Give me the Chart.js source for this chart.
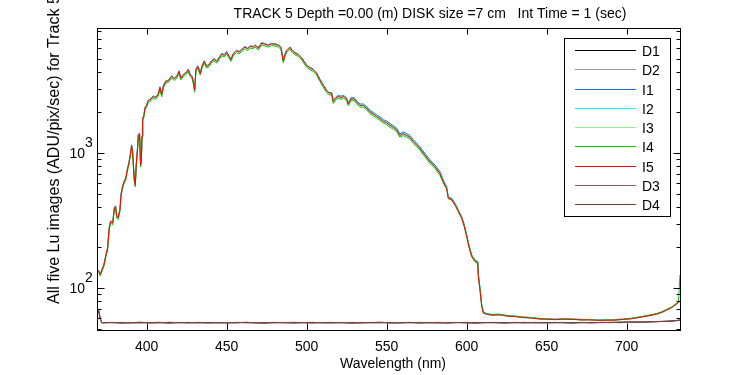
<!DOCTYPE html>
<html><head><meta charset="utf-8">
<script src="https://cdn.jsdelivr.net/npm/chart.js@4.4.1/dist/chart.umd.min.js"></script>
<style>html,body{margin:0;padding:0;background:#fff;overflow:hidden}</style>
</head><body>
<canvas id="c" width="750" height="375"></canvas>
<script>
const titleText = 'TRACK 5 Depth =0.00 (m) DISK size =7 cm   Int Time = 1 (sec)';
const xTitle = 'Wavelength (nm)';
const yTitle = 'All five Lu images (ADU/pix/sec) for Track 5';
const xTicks = [400, 450, 500, 550, 600, 650, 700];
const yMajorTicks = [100, 1000];
const yMajorBase = ['10', '10'];
const yMajorExp = ['2', '3'];
const yMinorTicks = [50, 60, 70, 80, 90, 200, 300, 400, 500, 600, 700, 800, 900, 2000, 3000, 4000, 5000, 6000, 7000, 8000];
const seriesNames = ['D1', 'D2', 'I1', 'I2', 'I3', 'I4', 'I5', 'D3', 'D4'];
const seriesColors = ['#000000', '#999999', '#1874d0', '#00ffff', '#90ee90', '#00c800', '#ff0000', '#8b5f5f', '#803838'];

const wl = [370,371,373.3,374.6,375.6,376.6,377.5,378.8,379.8,380.6,
381.3,382.2,383.3,384,384.8,386,387,387.9,388.9,389.8,
390.6,391.2,392.3,392.9,393.5,394.4,394.8,395.6,396.2,396.7,
397.1,397.5,398.3,398.9,400,401,402.7,404.2,405.6,407.3,
408.3,409.4,410.4,411.9,413.5,415.6,417.3,418.9,420.2,421.4,
422.9,424.4,426,427.2,428.3,429.1,430,430.8,431.9,433.5,
434.6,436,437.5,439,440.6,442.1,443.8,445.2,446.9,448.5,
450,451.5,452.7,454,456.2,457.7,459.3,461.4,463,464.7,
466.6,467.7,469.8,471.9,474,476,478.1,480.2,482.3,483.9,
485.4,486.4,487.5,489.6,491,492.7,494.8,496.9,498.5,500,
502.1,504.2,506.2,508.3,510.4,512.5,514,515.6,516.6,518.1,
519.8,521.5,522.9,525,526,527.7,529.7,531.2,533.3,535.4,
537.5,539.6,541.6,543.7,545.8,547.9,550,552.1,554.1,556.2,
558.3,560.4,562.5,564.6,566.6,568.7,570.8,573.9,577.1,580.2,
583.3,585.4,587.5,588.5,590.6,592.7,594.8,596.9,598.5,600,
601.4,603.1,605.2,606.9,607.3,608.3,609.4,610.4,612.5,615.6,
620.6,625,630,635.4,640,645.8,650,655,660,666.6,
672,677,682,687.5,692,697.9,703,708.3,713,718.7,
722,725,728,730.2,732.3,733.3];

const I1 = [136,127,150,178,200,281,315,306,395,407,
343,335,384,496,562,623,659,758,851,980,
1150,1040,640,588,827,1132,1380,1404,827,901,
1343,1813,1920,2175,2277,2464,2535,2656,2606,2762,
3100,2737,3151,3434,3464,3737,3596,3737,4070,3626,
3838,3949,4181,3838,3737,3434,2969,4181,4434,3939,
4434,4828,4434,4545,4868,5000,4828,5111,5464,5353,
5656,5252,4969,5454,5787,5656,5868,6161,5989,6232,
6161,6343,6050,6595,6464,6343,6515,6464,6343,6131,
4878,5404,5787,6131,5787,5565,5404,5111,4767,4505,
4313,4181,3949,3525,3202,2919,2808,2808,2444,2576,
2680,2640,2680,2570,2350,2570,2570,2440,2310,2310,
2210,2070,2005,1925,1855,1770,1726,1653,1598,1534,
1394,1433,1394,1347,1259,1188,1113,996,889,816,
729,632,564,475,463,425,379,338,294,247,
208,176,161,157,124,99,74,66,64.8,63.6,
63.9,62.6,62,61,60.5,59.3,59.2,58.9,59,58.8,
58.6,58.4,58.2,58,58.4,58.8,59.6,61.1,62.4,64.4,
66.4,69.1,71.9,75.2,78.4,80.4];

const I2 = [135,126,149,177,198,279,313,304,392,404,
341,333,381,492,559,619,655,753,845,974,
1143,1033,636,584,821,1124,1371,1394,821,895,
1334,1800,1907,2160,2262,2447,2517,2638,2588,2743,
3079,2718,3129,3410,3440,3711,3570,3711,4042,3600,
3811,3921,4152,3811,3711,3410,2949,4152,4403,3912,
4403,4794,4403,4513,4834,4965,4794,5075,5426,5316,
5617,5216,4935,5416,5747,5617,5827,6118,5948,6188,
6118,6299,6008,6549,6419,6299,6469,6419,6299,6088,
4844,5366,5747,6088,5747,5526,5366,5075,4734,4473,
4283,4152,3921,3500,3179,2898,2788,2788,2427,2558,
2650,2600,2650,2540,2330,2540,2540,2410,2275,2275,
2175,2035,1970,1890,1820,1736,1694,1622,1568,1505,
1368,1406,1368,1322,1235,1166,1093,977,872,801,
715,620,553,466,454,417,372,332,288,243,
204,173,159,155,122,98,74,66,65,64,
64.2,62.8,62.1,61.2,60.6,59.5,59.3,59,59.1,59,
58.7,58.5,58.3,58.2,58.5,59,59.8,61.2,62.5,64.6,
66.6,69.3,72.1,75.4,78.6,80.6];

const I3 = [134,125,148,176,197,276,310,301,388,400,
338,330,377,488,553,613,649,746,838,965,
1133,1024,630,578,814,1114,1358,1381,814,886,
1322,1784,1889,2140,2241,2425,2494,2613,2564,2718,
3051,2693,3100,3379,3408,3677,3538,3677,4005,3567,
3776,3885,4114,3776,3677,3379,2921,4114,4362,3875,
4362,4750,4362,4471,4790,4918,4750,5028,5376,5266,
5565,5167,4889,5366,5694,5565,5773,6062,5893,6131,
6062,6240,5952,6489,6360,6240,6409,6360,6240,6032,
4800,5316,5694,6032,5694,5475,5316,5028,4690,4432,
4243,4114,3885,3468,3150,2872,2762,2762,2405,2534,
2613,2564,2613,2504,2295,2504,2504,2375,2241,2241,
2140,2000,1938,1858,1789,1707,1664,1594,1540,1479,
1343,1381,1343,1299,1213,1145,1073,960,857,787,
703,609,544,458,446,410,366,326,283,239,
201,170,156,152,120,96,73,65,63.8,62.8,
63.3,61.9,61.4,60.6,59.9,58.9,58.7,58.4,58.6,58.4,
58.1,57.9,57.7,57.6,57.9,58.4,59.1,60.6,61.9,63.9,
65.9,68.6,71.4,74.7,77.9,79.9];

const I4 = [132,123,145,172,192,270,303,294,380,391,
330,322,369,476,540,598,633,728,818,942,
1105,999,612,562,794,1087,1326,1348,790,865,
1290,1741,1844,2089,2187,2367,2435,2551,2503,2653,
2978,2610,3026,3298,3327,3589,3453,3589,3909,3482,
3686,3793,4016,3686,3589,3298,2820,4016,4258,3783,
4258,4637,4258,4365,4675,4802,4637,4908,5248,5141,
5432,5044,4772,5238,5558,5432,5636,5917,5752,5985,
5917,6092,5810,6334,6208,6092,6257,6208,6092,5888,
4640,5190,5558,5888,5558,5345,5190,4908,4578,4326,
4142,4016,3793,3385,3075,2803,2697,2697,2330,2474,
2551,2503,2551,2444,2240,2444,2444,2318,2187,2187,
2089,1953,1892,1814,1746,1666,1625,1556,1504,1443,
1311,1348,1311,1268,1184,1117,1048,937,836,768,
686,600,540,470,455,418,374,334,292,246,
207,176,161,157,126,101,76,66,64.5,63.5,
63.2,62.3,61.8,60.3,60.2,59.4,59.1,58.2,59.2,58.9,
57.8,58.5,57.4,58.2,57.6,58.9,59.6,61.1,62.6,64.8,
66.9,69.6,72.4,75.6,78.5,125];

const I5 = [135,126,149,177,198,278,312,303,391,403,
340,332,380,491,557,617,653,751,843,971,
1140,1030,634,582,819,1121,1367,1390,819,892,
1330,1795,1901,2154,2255,2440,2510,2630,2580,2735,
3070,2710,3120,3400,3430,3700,3560,3700,4030,3590,
3800,3910,4140,3800,3700,3400,2940,4140,4390,3900,
4390,4780,4390,4500,4820,4950,4780,5060,5410,5300,
5600,5200,4920,5400,5730,5600,5810,6100,5930,6170,
6100,6280,5990,6530,6400,6280,6450,6400,6280,6070,
4830,5350,5730,6070,5730,5510,5350,5060,4720,4460,
4270,4140,3910,3490,3170,2890,2780,2780,2420,2550,
2630,2580,2630,2520,2310,2520,2520,2390,2255,2255,
2154,2013,1950,1870,1800,1718,1675,1604,1550,1488,
1352,1390,1352,1307,1221,1152,1080,966,862,792,
707,613,547,461,449,412,368,328,285,240,
202,171,157,153,121,97,73,65,64,63,
63.5,62,61.5,60.7,60,58.9,58.8,58.5,58.7,58.5,
58.2,58,57.8,57.7,58,58.5,59.2,60.7,62,64,
66,68.7,71.5,74.8,78,80];

const wlDark = [370,371,372,378,384,390,396,402,408,414,
420,426,432,438,444,450,456,462,468,474,
480,486,492,498,504,510,516,522,528,534,
540,546,552,558,564,570,576,582,588,594,
600,606,612,618,624,630,636,642,648,654,
660,666,672,678,684,690,696,702,708,714,
720,726,730,733.3];

const D1 = [68.5,59.5,55.3,55.6,55.1,55.4,55.8,55.2,55.5,55.0,
55.6,55.3,55.7,55.1,55.4,55.5,55.2,55.8,55.3,55.0,
55.6,55.4,55.1,55.5,55.7,55.2,55.3,55.6,55.0,55.4,
55.5,55.8,55.2,55.3,55.6,55.1,55.4,55.7,55.2,55.5,
55.3,55.0,55.6,55.4,55.1,55.7,55.3,55.5,55.2,55.6,
55.4,55.0,55.5,55.3,55.7,55.6,55.4,55.9,56.0,56.2,
56.4,56.8,57.2,57.8];
const D2 = [67.8,59.0,55.5,55.2,55.7,55.3,55.0,55.6,55.4,55.8,
55.1,55.5,55.3,55.6,55.0,55.7,55.4,55.2,55.6,55.5,
55.1,55.7,55.3,55.4,55.0,55.6,55.5,55.2,55.8,55.3,
55.1,55.4,55.7,55.5,55.2,55.6,55.0,55.3,55.7,55.4,
55.6,55.5,55.2,55.7,55.4,55.1,55.6,55.3,55.5,55.2,
55.7,55.5,55.3,55.6,55.4,55.8,56.0,55.7,56.1,56.3,
56.6,56.9,57.4,58.0];
const D3 = [68.0,59.2,55.4,55.7,55.3,55.6,55.2,55.5,55.8,55.3,
55.4,55.7,55.1,55.5,55.6,55.2,55.7,55.4,55.1,55.6,
55.3,55.5,55.8,55.2,55.4,55.6,55.1,55.5,55.3,55.7,
55.4,55.2,55.6,55.5,55.3,55.7,55.4,55.1,55.5,55.6,
55.2,55.7,55.4,55.3,55.6,55.5,55.2,55.7,55.4,55.3,
55.6,55.4,55.7,55.2,55.5,55.7,55.9,56.0,55.8,56.3,
56.5,56.7,57.3,57.9];
const D4 = [68.2,59.3,55.2,55.5,55.4,55.1,55.6,55.3,55.2,55.7,
55.5,55.2,55.4,55.6,55.3,55.1,55.6,55.5,55.4,55.2,
55.7,55.3,55.4,55.6,55.2,55.5,55.7,55.3,55.4,55.1,
55.6,55.5,55.3,55.2,55.7,55.4,55.6,55.3,55.1,55.5,
55.7,55.3,55.5,55.6,55.2,55.4,55.7,55.2,55.6,55.5,
55.3,55.6,55.4,55.7,55.5,55.4,55.8,56.1,56.0,56.2,
56.5,56.8,57.3,57.9];

const seriesX = [wlDark, wlDark, wl, wl, wl, wl, wl, wlDark, wlDark];
const seriesY = [D1, D2, I1, I2, I3, I4, I5, D3, D4];

const FONT = '"Liberation Sans", Arial, Helvetica, sans-serif';

const datasets = seriesNames.map((name, i) => ({
  label: name,
  data: seriesX[i].map((xv, k) => ({ x: xv, y: seriesY[i][k] })),
  borderColor: seriesColors[i],
  backgroundColor: seriesColors[i],
  borderWidth: 1,
  pointRadius: 0,
  fill: false,
  tension: 0,
  order: 9 - i
}));

const decor = {
  id: 'decor',
  afterDraw(chart) {
    const { ctx, chartArea: a, scales: { x, y } } = chart;
    ctx.save();
    ctx.strokeStyle = '#000';
    ctx.fillStyle = '#000';
    ctx.lineWidth = 1;
    const L = Math.round(a.left) - 0.5, R = Math.round(a.right) + 0.5;
    const T = Math.round(a.top) - 0.5, B = Math.round(a.bottom) + 0.5;
    ctx.strokeRect(L, T, R - L, B - T);
    ctx.beginPath();
    xTicks.forEach(v => {
      const px = Math.round(x.getPixelForValue(v)) + 0.5;
      ctx.moveTo(px, B); ctx.lineTo(px, B - 7);
      ctx.moveTo(px, T); ctx.lineTo(px, T + 6);
    });
    yMajorTicks.forEach(v => {
      const py = Math.round(y.getPixelForValue(v)) + 0.5;
      ctx.moveTo(L, py); ctx.lineTo(L + 7, py);
      ctx.moveTo(R, py); ctx.lineTo(R - 7, py);
    });
    yMinorTicks.forEach(v => {
      const py = Math.round(y.getPixelForValue(v)) + 0.5;
      ctx.moveTo(L, py); ctx.lineTo(L + 4, py);
      ctx.moveTo(R, py); ctx.lineTo(R - 4, py);
    });
    ctx.stroke();

    ctx.font = '14px ' + FONT;
    ctx.textAlign = 'center';
    ctx.textBaseline = 'alphabetic';
    xTicks.forEach(v => ctx.fillText(String(v), x.getPixelForValue(v), 351));
    yMajorTicks.forEach((v, i) => {
      const py = y.getPixelForValue(v);
      ctx.textAlign = 'right';
      ctx.fillText(yMajorBase[i], 85, py + 5);
      ctx.textAlign = 'left';
      ctx.fillText(yMajorExp[i], 85, py - 6);
    });
    ctx.textAlign = 'center';
    ctx.fillText(xTitle, (a.left + a.right) / 2 + 4, 368);
    ctx.fillText(titleText, 430, 18);
    ctx.save();
    ctx.font = '16px ' + FONT;
    ctx.translate(59, 304);
    ctx.rotate(-Math.PI / 2);
    ctx.textAlign = 'left';
    ctx.fillText(yTitle, 0, 0);
    ctx.restore();

    const lx = 564.5, ly = 38.5, lw = 106, lh = 178;
    ctx.fillStyle = '#fff';
    ctx.fillRect(lx, ly, lw, lh);
    ctx.strokeStyle = '#000';
    ctx.strokeRect(lx, ly, lw, lh);
    ctx.textAlign = 'left';
    seriesNames.forEach((name, i) => {
      const yy = Math.round(50 + i * 19.25) + 0.5;
      ctx.strokeStyle = seriesColors[i];
      ctx.beginPath();
      ctx.moveTo(575, yy); ctx.lineTo(636, yy);
      ctx.stroke();
      ctx.fillStyle = '#000';
      ctx.fillText(name, 642, yy + 5);
    });
    ctx.restore();
  }
};

new Chart(document.getElementById('c'), {
  type: 'line',
  data: { datasets },
  options: {
    responsive: false,
    animation: false,
    devicePixelRatio: 1,
    layout: { padding: { left: 98, right: 70, top: 29, bottom: 45 } },
    scales: {
      x: { type: 'linear', min: 369.6, max: 733.3, display: false },
      y: { type: 'logarithmic', min: 48.9, max: 8300, display: false }
    },
    plugins: { legend: { display: false }, title: { display: false }, tooltip: { enabled: false } }
  },
  plugins: [decor]
});
</script>
</body></html>
